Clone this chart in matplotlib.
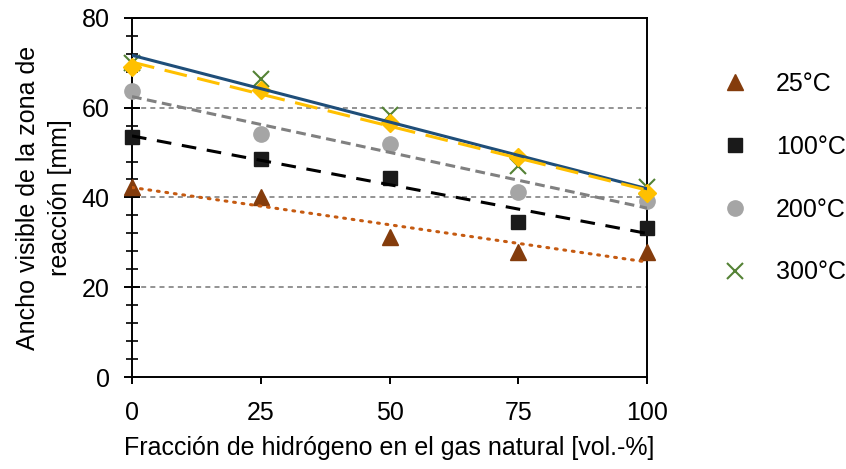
import numpy as np
import matplotlib
matplotlib.use("Agg")
import matplotlib.pyplot as plt
from matplotlib.lines import Line2D
from matplotlib.ticker import MultipleLocator

plt.rcParams["font.family"] = ["Liberation Sans", "DejaVu Sans"]

# hydrogen fraction in natural gas [vol.-%]
h2_frac = [0, 25, 50, 75, 100]

# visible reaction zone width [mm]
w_25c = [42.4, 40.2, 31.3, 27.9, 27.8]
w_100c = [53.5, 48.5, 44.3, 34.6, 33.3]
w_200c = [63.7, 54.2, 51.9, 41.3, 39.1]
w_300c = [69.9, 66.3, 58.4, 47.0, 42.4]
w_extra = [69.0, 64.0, 56.6, 48.9, 40.9]   # yellow series, not in legend

labels = ["25°C", "100°C", "200°C", "300°C"]

FS = 18

fig = plt.figure(figsize=(8.46, 4.69), dpi=100)
ax = fig.add_axes([0.156, 0.196, 0.609, 0.766])

x = np.array(h2_frac, dtype=float)
xfit = np.array([0.0, 100.0])


def trend(y):
    k, b = np.polyfit(x, y, 1)
    return k * xfit + b


# markers
ax.plot(x, w_25c, ls="none", marker="^", ms=11, color="#843C0C", clip_on=False, zorder=3)
ax.plot(x, w_100c, ls="none", marker="s", ms=9.5, color="#1a1a1a", clip_on=False, zorder=3)
ax.plot(x, w_200c, ls="none", marker="o", ms=11, color="#A5A5A5", clip_on=False, zorder=3)
ax.plot(x, w_300c, ls="none", marker="x", ms=11, mew=1.5, color="#548235", clip_on=False, zorder=3)
ax.plot(x, w_extra, ls="none", marker="D", ms=9, color="#FFC000", clip_on=False, zorder=3)

# linear trend lines
ax.plot(xfit, trend(w_25c), color="#C55A11", lw=2.2, ls=(0, (0.6, 2.2)),
        dash_capstyle="round", zorder=4)
ax.plot(xfit, trend(w_100c), color="black", lw=2.2, ls=(0, (4.8, 3.5)), zorder=4)
ax.plot(xfit, trend(w_200c), color="#808080", lw=2.2, ls=(0, (3.2, 1.8)), zorder=4)
ax.plot(xfit, trend(w_300c), color="#1F4E79", lw=2.2, zorder=4)
ax.plot(xfit, trend(w_extra), color="#FFC000", lw=2.2, ls=(0, (7.5, 3.5)), zorder=5)

ax.set_xlim(0, 100)
ax.set_ylim(0, 80)
ax.set_xticks(h2_frac)
ax.yaxis.set_major_locator(MultipleLocator(20))
ax.yaxis.set_minor_locator(MultipleLocator(4))

for y in (20, 40, 60):
    ax.axhline(y, color="#808080", lw=1.2, ls=(0, (3, 2.5)), zorder=1)

for s in ax.spines.values():
    s.set_linewidth(1.4)
    s.set_color("black")

ax.tick_params(axis="y", which="major", direction="inout", length=12, width=1.4,
               labelsize=FS, pad=10, right=False)
ax.tick_params(axis="y", which="minor", direction="inout", length=9, width=1.2, right=False)
ax.tick_params(axis="x", which="major", direction="out", length=5, width=1.4,
               labelsize=FS, pad=12, top=False)

ax.set_xlabel("Fracción de hidrógeno en el gas natural [vol.-%]", fontsize=FS, labelpad=8)
ax.set_ylabel("Ancho visible de la zona de\nreacción [mm]", fontsize=FS, labelpad=7,
              linespacing=1.4)

handles = [
    Line2D([], [], ls="none", marker="^", ms=11, color="#843C0C"),
    Line2D([], [], ls="none", marker="s", ms=9.5, color="#1a1a1a"),
    Line2D([], [], ls="none", marker="o", ms=11, color="#A5A5A5"),
    Line2D([], [], ls="none", marker="x", ms=11, mew=1.5, color="#548235"),
]
fig.legend(handles, labels, loc="upper left", bbox_to_anchor=(0.839, 0.873),
           frameon=False, fontsize=FS, handlelength=1.0, handletextpad=1.14,
           labelspacing=1.55, borderpad=0)

fig.savefig("out.png", dpi=100)
